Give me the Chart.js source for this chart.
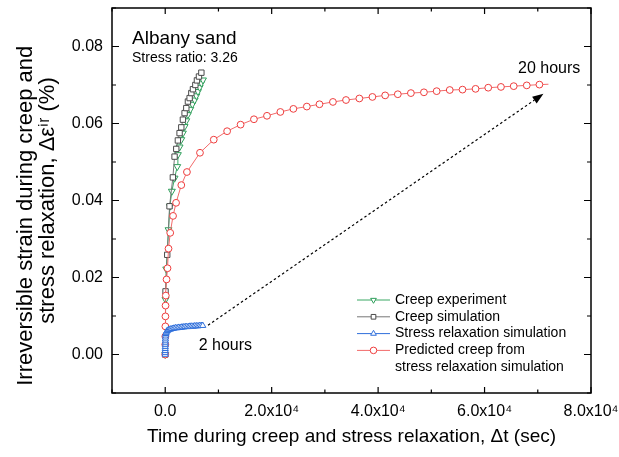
<!DOCTYPE html>
<html>
<head>
<meta charset="utf-8">
<script src="https://cdn.jsdelivr.net/npm/chart.js@4.4.1/dist/chart.umd.min.js"></script>
<style>
  html, body { margin: 0; padding: 0; background: #fff; }
  #wrap { width: 619px; height: 457px; }
</style>
</head>
<body>
<div id="wrap"><canvas id="chart"></canvas></div>
<script>
// creep experiment (time in sec, strain in %)
var creepExpTime = [0, 60, 190, 620, 870, 1245, 1755, 2260, 2380, 2700, 3020, 3320, 3640, 3960, 4265, 4720, 5095, 5530, 5850, 6150, 6470, 6790, 7095];
var creepExpStrain = [0, 0.0143, 0.0222, 0.0324, 0.0385, 0.0424, 0.0458, 0.0488, 0.0519, 0.0539, 0.0558, 0.0575, 0.0592, 0.0607, 0.0623, 0.0637, 0.0650, 0.0661, 0.0672, 0.0683, 0.0694, 0.0705, 0.0713];

// creep simulation
var creepSimTime = [0, 60, 380, 810, 1435, 1755, 2075, 2380, 2700, 3020, 3320, 3640, 3960, 4265, 4585, 4905, 5210, 5660, 5960, 6340, 6790];
var creepSimStrain = [0, 0.0164, 0.0259, 0.0385, 0.0460, 0.0514, 0.0534, 0.0556, 0.0575, 0.0590, 0.0610, 0.0627, 0.0640, 0.0657, 0.0666, 0.0679, 0.0689, 0.0700, 0.0712, 0.0722, 0.0732];

// stress relaxation simulation (2 hours)
var relaxSimTime = [0, 3, 6, 10, 14, 19, 25, 32, 40, 50, 70, 110, 180, 280, 420, 600, 820, 1070, 1350, 1650, 1950, 2250, 2550, 2850, 3150, 3450, 3750, 4050, 4350, 4650, 4950, 5250, 5550, 5850, 6150, 6450, 6750, 7050];
var relaxSimStrain = [0, 0.0005, 0.0010, 0.0015, 0.0020, 0.0025, 0.0030, 0.0035, 0.0040, 0.0045, 0.0050, 0.0054, 0.0057, 0.0060, 0.0062, 0.0064, 0.0065, 0.0066, 0.0067, 0.0068, 0.0069, 0.0069, 0.0070, 0.0070, 0.0071, 0.0071, 0.0072, 0.0072, 0.0072, 0.0073, 0.0073, 0.0073, 0.0074, 0.0074, 0.0074, 0.0075, 0.0075, 0.0075];

// predicted creep from stress relaxation simulation (20 hours)
var predTime = [0, 10, 20, 30, 40, 60, 110, 250, 430, 620, 940, 1470, 2040, 3020, 4080, 6530, 9120, 11630, 14160, 16670, 19120, 21630,
  24080, 26610, 28985, 31510, 33970, 36475, 38930, 41325, 43700, 46160, 48610, 51000, 53460, 55860, 58310, 60690, 63080, 65480, 67930, 70310, 72000];
var predStrain = [0, 0.0026, 0.0047, 0.0073, 0.0099, 0.0127, 0.0153, 0.0195, 0.0224, 0.0275, 0.0316, 0.0360, 0.0394, 0.0440, 0.0474, 0.0524, 0.0558, 0.0580, 0.0597, 0.0611, 0.0620, 0.0630,
  0.0638, 0.0644, 0.0650, 0.0656, 0.0661, 0.0665, 0.0669, 0.0673, 0.0676, 0.0679, 0.0681, 0.0684, 0.0687, 0.0688, 0.0690, 0.0693, 0.0695, 0.0697, 0.0699, 0.0701, 0.0702];

var xTickValues = [0, 20000, 40000, 60000, 80000];
var xTickLabels = ['0.0', '2.0x10\u2074', '4.0x10\u2074', '6.0x10\u2074', '8.0x10\u2074'];
var yTickValues = [0, 0.02, 0.04, 0.06, 0.08];
var yTickLabels = ['0.00', '0.02', '0.04', '0.06', '0.08'];

var seriesNames = ['Creep experiment', 'Creep simulation', 'Stress relaxation simulation', ['Predicted creep from', 'stress relaxation simulation']];

var FONT = "'Liberation Sans', Arial, Helvetica, sans-serif";

function pairs(xs, ys) {
  return xs.map(function(x, i) { return {x: x, y: ys[i]}; });
}
function findLabel(v, values, labels) {
  for (var i = 0; i < values.length; i++) {
    if (Math.abs(v - values[i]) < 1e-9 * Math.max(1, Math.abs(values[i]))) return labels[i];
  }
  return '';
}

var chartData = {
  datasets: [
    {
      label: seriesNames[0],
      data: pairs(creepExpTime, creepExpStrain),
      borderColor: '#3aa865', pointBorderColor: '#2e9e5a', pointBackgroundColor: '#fff',
      pointStyle: 'triangle', rotation: 180, pointRadius: 4, pointBorderWidth: 1,
      borderWidth: 1, order: 4
    },
    {
      label: seriesNames[1],
      data: pairs(creepSimTime, creepSimStrain),
      borderColor: '#777777', pointBorderColor: '#4a4a4a', pointBackgroundColor: '#fff',
      pointStyle: 'rect', pointRadius: 3.8, pointBorderWidth: 1,
      borderWidth: 1, order: 3
    },
    {
      label: seriesNames[2],
      data: pairs(relaxSimTime, relaxSimStrain),
      borderColor: '#2f6fdb', pointBorderColor: '#2f6fdb', pointBackgroundColor: '#fff',
      pointStyle: 'triangle', pointRadius: 3.6, pointBorderWidth: 1,
      borderWidth: 1, order: 1
    },
    {
      label: seriesNames[3].join(' '),
      data: pairs(predTime, predStrain),
      borderColor: '#f26a6a', pointBorderColor: '#ee3d3d', pointBackgroundColor: '#fff',
      pointStyle: 'circle',
      pointRadius: function(ctx) { return ctx.dataIndex === predTime.length - 1 ? 0 : 3.4; },
      pointBorderWidth: 1, borderWidth: 1, order: 2
    }
  ]
};

// text and arrow placed in data coordinates
var arrowFrom = [8040, 0.0076];
var arrowTo = [71065, 0.0677];
var note2h = {text: '2 hours', at: [6280, 0.0011]};
var note20h = {text: '20 hours', at: [66290, 0.0730]};

var decorPlugin = {
  id: 'decor',
  afterDraw: function(chart) {
    var ctx = chart.ctx;
    var a = chart.chartArea;
    var xs = chart.scales.x, ys = chart.scales.y;
    var v;
    ctx.save();

    // frame
    ctx.strokeStyle = '#000';
    ctx.lineWidth = 1.5;
    ctx.strokeRect(a.left, a.top, a.right - a.left, a.bottom - a.top);

    // inside ticks
    ctx.lineWidth = 1.2;
    ctx.beginPath();
    for (v = -10000; v <= 80000; v += 10000) {
      var px = xs.getPixelForValue(v);
      var major = (v % 20000 === 0);
      var len = major ? 6 : 3.5;
      ctx.moveTo(px, a.bottom); ctx.lineTo(px, a.bottom - len);
      ctx.moveTo(px, a.top); ctx.lineTo(px, a.top + len);
    }
    for (var k = -1; k <= 9; k++) {
      var py = ys.getPixelForValue(k / 100);
      var lenY = (k % 2 === 0) ? 7 : 4;
      ctx.moveTo(a.left, py); ctx.lineTo(a.left + lenY, py);
      ctx.moveTo(a.right, py); ctx.lineTo(a.right - lenY, py);
    }
    ctx.stroke();

    // dotted arrow
    var x0 = xs.getPixelForValue(arrowFrom[0]), y0 = ys.getPixelForValue(arrowFrom[1]);
    var x1 = xs.getPixelForValue(arrowTo[0]), y1 = ys.getPixelForValue(arrowTo[1]);
    var ang = Math.atan2(y1 - y0, x1 - x0);
    var headLen = 11, headW = 4;
    ctx.setLineDash([2.5, 2.5]);
    ctx.lineWidth = 1.2;
    ctx.beginPath();
    ctx.moveTo(x0, y0);
    ctx.lineTo(x1 - headLen * Math.cos(ang), y1 - headLen * Math.sin(ang));
    ctx.stroke();
    ctx.setLineDash([]);
    ctx.fillStyle = '#000';
    ctx.beginPath();
    ctx.moveTo(x1, y1);
    ctx.lineTo(x1 - headLen * Math.cos(ang) + headW * Math.sin(ang), y1 - headLen * Math.sin(ang) - headW * Math.cos(ang));
    ctx.lineTo(x1 - headLen * Math.cos(ang) - headW * Math.sin(ang), y1 - headLen * Math.sin(ang) + headW * Math.cos(ang));
    ctx.closePath();
    ctx.fill();

    // notes
    ctx.fillStyle = '#000';
    ctx.textAlign = 'left';
    ctx.textBaseline = 'alphabetic';
    ctx.font = '16px ' + FONT;
    ctx.fillText(note2h.text, xs.getPixelForValue(note2h.at[0]), ys.getPixelForValue(note2h.at[1]));
    ctx.fillText(note20h.text, xs.getPixelForValue(note20h.at[0]), ys.getPixelForValue(note20h.at[1]));
    ctx.font = '19px ' + FONT;
    ctx.fillText('Albany sand', a.left + 20, a.top + 36);
    ctx.font = '14px ' + FONT;
    ctx.fillText('Stress ratio: 3.26', a.left + 20, a.top + 54);

    // legend
    var lx = a.right - 234, ly = a.top + 292, row = 16.8;
    ctx.font = '14px ' + FONT;
    ctx.textBaseline = 'middle';
    chart.data.datasets.forEach(function(ds, i) {
      var yy = ly + i * row;
      ctx.strokeStyle = ds.borderColor;
      ctx.lineWidth = 1;
      ctx.beginPath();
      ctx.moveTo(lx, yy); ctx.lineTo(lx + 33, yy);
      ctx.stroke();
      ctx.fillStyle = '#fff';
      ctx.strokeStyle = ds.pointBorderColor;
      ctx.lineWidth = 1;
      Chart.helpers.drawPoint(ctx, {pointStyle: ds.pointStyle, rotation: ds.rotation || 0, borderWidth: 1, radius: 3.3}, lx + 16.5, yy);
      ctx.fillStyle = '#000';
      var lines = Array.isArray(seriesNames[i]) ? seriesNames[i] : [seriesNames[i]];
      lines.forEach(function(t, j) {
        ctx.fillText(t, lx + 38, yy + j * row);
      });
    });
    ctx.restore();
  }
};

var ctx = document.getElementById('chart').getContext('2d');
var chart = new Chart(ctx, {
  type: 'line',
  data: chartData,
  options: {
    responsive: true,
    maintainAspectRatio: false,
    animation: false,
    devicePixelRatio: 1,
    layout: { padding: { left: 0, top: 8, right: 28, bottom: 0 } },
    plugins: { legend: { display: false }, tooltip: { enabled: false } },
    elements: { line: { tension: 0 } },
    scales: {
      x: {
        type: 'linear',
        min: -10000,
        max: 80000,
        grid: { display: false, drawTicks: false },
        border: { display: false },
        ticks: {
          stepSize: 10000, autoSkip: false, maxRotation: 0, padding: 9,
          color: '#000', font: { family: FONT, size: 16 },
          callback: function(v) { return findLabel(v, xTickValues, xTickLabels); }
        },
        title: {
          display: true,
          text: 'Time during creep and stress relaxation, \u0394t (sec)',
          color: '#000', font: { family: FONT, size: 19 },
          padding: { top: 0, bottom: 9 }
        },
        afterFit: function(scale) {
          scale.height = 64;
          scale.paddingLeft = 0; scale.paddingRight = 0;
        }
      },
      y: {
        type: 'linear',
        min: -0.01,
        max: 0.09,
        grid: { display: false, drawTicks: false },
        border: { display: false },
        ticks: {
          stepSize: 0.01, autoSkip: false, padding: 9,
          color: '#000', font: { family: FONT, size: 16 },
          callback: function(v) { return findLabel(v, yTickValues, yTickLabels); }
        },
        title: {
          display: true,
          text: ['Irreversible strain during creep and     ', 'stress relaxation, \u0394\u03b5\u2071\u02b3 (%)'],
          color: '#000', font: { family: FONT, size: 22, lineHeight: 1.0 },
          padding: { top: 15, bottom: 0 }
        },
        afterFit: function(scale) {
          scale.width = 112;
          scale.paddingTop = 0; scale.paddingBottom = 0;
        }
      }
    }
  },
  plugins: [decorPlugin]
});
</script>
</body>
</html>
